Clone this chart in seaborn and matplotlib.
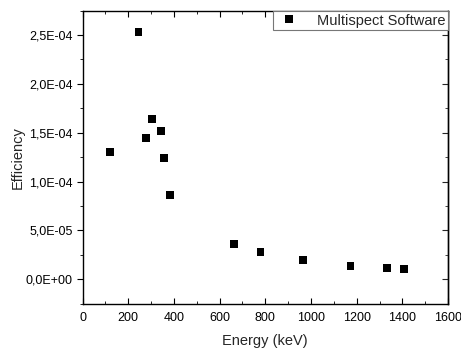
import matplotlib
matplotlib.use("Agg")
import matplotlib.pyplot as plt
import seaborn as sns
import pandas as pd
from matplotlib.ticker import MultipleLocator, FuncFormatter

energy = [122, 245, 276, 303, 344, 356, 384, 662, 779, 964, 1173, 1332, 1408]
efficiency = [1.305e-4, 2.53e-4, 1.445e-4, 1.64e-4, 1.52e-4, 1.243e-4, 0.862e-4,
              3.64e-5, 2.82e-5, 2.0e-5, 1.39e-5, 1.12e-5, 1.08e-5]
series_name = "Multispect Software"

df = pd.DataFrame({"Energy": energy, "Efficiency": efficiency, "Series": series_name})

sns.set_style("ticks")
plt.rcParams['font.family'] = ['Liberation Sans', 'DejaVu Sans']

fig = plt.figure(figsize=(4.61, 3.53), dpi=100)
ax = fig.add_axes([0.179, 0.140, 0.793, 0.830])

sns.scatterplot(data=df, x="Energy", y="Efficiency", hue="Series", palette=["black"],
                marker="s", s=32, edgecolor="black", linewidth=0, ax=ax)

ax.set_xlim(0, 1600)
ax.set_ylim(-2.5e-5, 2.75e-4)
ax.xaxis.set_major_locator(MultipleLocator(200))
ax.xaxis.set_minor_locator(MultipleLocator(100))
ax.yaxis.set_major_locator(MultipleLocator(5e-5))
ax.yaxis.set_minor_locator(MultipleLocator(2.5e-5))
ax.yaxis.set_major_formatter(FuncFormatter(lambda v, p: f"{v:.1E}".replace('.', ',') if abs(v) > 1e-12 else "0,0E+00"))

for s in ax.spines.values():
    s.set_color("black")
    s.set_linewidth(1.0)

ax.tick_params(axis='x', which='both', direction='in', top=True, bottom=True,
               labelsize=9, colors='black', pad=6)
ax.tick_params(axis='x', which='major', length=4)
ax.tick_params(axis='x', which='minor', length=2.5)
ax.tick_params(axis='y', which='both', direction='out', left=True, right=False,
               labelsize=9, colors='black', pad=3)
ax.tick_params(axis='y', which='major', length=4)
ax.tick_params(axis='y', which='minor', length=2.5)
ax2 = ax.secondary_yaxis('right')
ax2.yaxis.set_major_locator(MultipleLocator(5e-5))
ax2.yaxis.set_minor_locator(MultipleLocator(2.5e-5))
ax2.tick_params(axis='y', which='both', direction='in', labelright=False)
ax2.tick_params(axis='y', which='major', length=4)
ax2.tick_params(axis='y', which='minor', length=2.5)
ax2.spines['right'].set_linewidth(1.0)

ax.set_xlabel("Energy (keV)", fontsize=10.5, labelpad=7)
ax.set_ylabel("Efficiency", fontsize=10.5, labelpad=1)

leg = ax.legend(loc='upper right', bbox_to_anchor=(1.0, 1.0), frameon=True, fontsize=10.5,
                fancybox=False, borderpad=0.2, handletextpad=1.0, borderaxespad=0,
                handlelength=1.8, markerscale=1.0)
leg.get_frame().set_edgecolor("#777777")
leg.get_frame().set_linewidth(0.8)
leg.get_frame().set_alpha(1)
leg.set_title(None)

fig.savefig("out.png", dpi=100)
